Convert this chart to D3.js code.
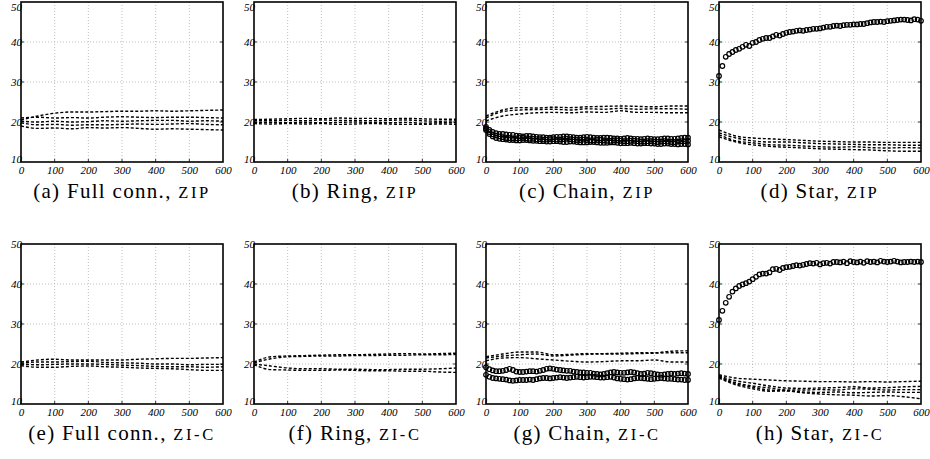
<!DOCTYPE html>
<html>
<head>
<meta charset="utf-8">
<script src="https://cdn.jsdelivr.net/npm/d3@7"></script>
<style>
  body { margin: 0; background: #fff; }
  svg { display: block; }
</style>
</head>
<body>
<svg id="chart" width="930" height="459"></svg>
<script>
// sample positions (iterations)
const xDash = [0, 50, 100, 150, 200, 250, 300, 350, 400, 450, 500, 550, 600]
const xCirc = [0, 10, 20, 30, 40, 50, 60, 70, 80, 90, 100, 110, 120, 130, 140, 150, 160, 170, 180, 190,
  200, 210, 220, 230, 240, 250, 260, 270, 280, 290, 300, 310, 320, 330, 340, 350, 360, 370, 380, 390,
  400, 410, 420, 430, 440, 450, 460, 470, 480, 490, 500, 510, 520, 530, 540, 550, 560, 570, 580, 590, 600]

const xTicks = [0, 100, 200, 300, 400, 500, 600]
const yTicks = [10, 20, 30, 40, 50]

// (a) Full conn., zip
const a1 = [20.5, 21.5, 22.2, 22.5, 22.5, 22.6, 22.7, 22.7, 22.8, 22.7, 22.8, 22.9, 23.0]
const a2 = [21.0, 21.2, 21.0, 21.1, 21.0, 21.2, 21.3, 21.2, 21.1, 21.2, 21.2, 21.1, 21.0]
const a3 = [20.2, 20.0, 20.2, 20.0, 20.1, 20.3, 20.2, 20.3, 20.4, 20.4, 20.2, 20.3, 20.2]
const a4 = [19.8, 19.3, 19.4, 19.2, 19.3, 19.3, 19.4, 19.5, 19.4, 19.5, 19.6, 19.4, 19.3]
const a5 = [19.0, 18.4, 18.5, 18.3, 18.6, 18.5, 18.6, 18.4, 18.2, 18.3, 18.2, 18.1, 18.0]

// (b) Ring, zip
const b1 = [20.6, 20.7, 20.8, 20.9, 20.8, 21.0, 20.9, 20.9, 20.8, 20.9, 20.8, 20.7, 20.7]
const b2 = [20.3, 20.3, 20.4, 20.3, 20.5, 20.4, 20.4, 20.3, 20.4, 20.5, 20.3, 20.2, 20.3]
const b3 = [19.9, 19.9, 19.8, 19.9, 19.8, 19.9, 20.0, 19.8, 19.8, 19.9, 19.7, 19.8, 19.8]
const b4 = [19.6, 19.5, 19.6, 19.5, 19.6, 19.4, 19.5, 19.6, 19.5, 19.4, 19.4, 19.5, 19.4]

// (c) Chain, zip
const c1 = [21.5, 23.0, 23.6, 23.5, 23.7, 23.6, 23.8, 23.9, 24.0, 23.9, 23.8, 24.0, 24.0]
const c2 = [21.0, 22.6, 23.0, 23.1, 23.2, 23.0, 23.3, 23.2, 23.4, 23.2, 23.3, 23.3, 23.2]
const c3 = [20.3, 21.5, 22.0, 22.3, 22.4, 22.3, 22.5, 22.4, 22.8, 22.4, 22.4, 22.3, 22.3]
const cO1 = [18.8, 18.0, 17.5, 17.2, 17.0, 17.0, 16.9, 16.8, 16.8, 16.6, 16.5, 16.4, 16.5, 16.5, 16.4, 16.3, 16.2, 16.2, 16.1, 16.1,
  16.2, 16.3, 16.3, 16.4, 16.4, 16.3, 16.2, 16.1, 16.1, 16.2, 16.3, 16.2, 16.1, 16.0, 16.0, 16.1, 16.1, 16.0, 15.9, 15.9,
  15.8, 15.9, 16.0, 15.9, 15.8, 15.8, 15.7, 15.8, 15.9, 15.8, 15.7, 15.7, 15.8, 15.9, 15.9, 15.8, 15.8, 15.9, 16.0, 16.1, 16.1]
const cO2 = [18.4, 17.5, 16.9, 16.6, 16.4, 16.2, 16.0, 16.0, 15.9, 15.9, 16.0, 16.0, 15.9, 15.8, 15.8, 15.7, 15.7, 15.6, 15.6, 15.7,
  15.7, 15.6, 15.6, 15.7, 15.8, 15.7, 15.6, 15.5, 15.5, 15.6, 15.5, 15.4, 15.4, 15.5, 15.5, 15.4, 15.3, 15.3, 15.4, 15.4,
  15.3, 15.2, 15.2, 15.3, 15.3, 15.2, 15.1, 15.1, 15.2, 15.2, 15.1, 15.0, 15.1, 15.2, 15.1, 15.0, 15.0, 15.1, 15.2, 15.2, 15.3]
const cO3 = [18.0, 17.0, 16.4, 16.0, 15.8, 15.7, 15.6, 15.5, 15.5, 15.4, 15.4, 15.5, 15.5, 15.4, 15.3, 15.3, 15.2, 15.2, 15.1, 15.1,
  15.2, 15.2, 15.1, 15.0, 15.0, 15.1, 15.1, 15.0, 14.9, 14.9, 14.9, 15.0, 15.0, 14.9, 14.8, 14.8, 14.8, 14.9, 14.9, 14.8,
  14.7, 14.7, 14.7, 14.8, 14.7, 14.6, 14.6, 14.7, 14.7, 14.6, 14.6, 14.5, 14.5, 14.6, 14.6, 14.5, 14.5, 14.4, 14.5, 14.5, 14.4]

// (d) Star, zip
const s1 = [18.0, 16.5, 16.0, 15.8, 15.6, 15.4, 15.2, 15.1, 15.0, 15.0, 14.9, 14.9, 14.9]
const s2 = [17.3, 16.0, 15.3, 15.0, 15.0, 14.8, 14.6, 14.5, 14.4, 14.3, 14.3, 14.2, 14.2]
const s3 = [16.8, 15.3, 14.8, 14.3, 14.2, 14.0, 13.8, 13.7, 13.8, 13.6, 13.5, 13.6, 13.5]
const s4 = [16.3, 15.0, 14.3, 13.9, 13.7, 13.5, 13.3, 13.2, 13.1, 13.0, 12.8, 12.7, 12.7]
const sO = [31.5, 34.0, 36.3, 37.0, 37.5, 38.0, 38.3, 38.8, 39.3, 39.0, 39.8, 40.0, 40.5, 40.8, 41.0, 41.0, 41.4, 41.8, 41.6, 42.0,
  42.3, 42.5, 42.6, 42.8, 42.9, 42.8, 43.0, 43.1, 43.3, 43.3, 43.4, 43.6, 43.8, 43.8, 44.0, 44.1, 44.0, 44.2, 44.3, 44.3,
  44.4, 44.4, 44.5, 44.5, 44.7, 44.9, 45.0, 45.0, 45.1, 45.0, 45.2, 45.3, 45.4, 45.5, 45.6, 45.6, 45.5, 45.4, 45.7, 45.6, 45.3]

// (e) Full conn., zi-c
const e1 = [20.5, 21.0, 21.2, 21.0, 21.0, 21.0, 21.0, 21.2, 21.3, 21.4, 21.4, 21.5, 21.6]
const e2 = [20.2, 20.5, 20.5, 20.6, 20.7, 20.4, 20.3, 20.2, 20.0, 20.0, 19.8, 19.9, 19.9]
const e3 = [20.0, 19.8, 19.9, 20.0, 20.0, 19.9, 19.7, 19.6, 19.4, 19.3, 19.3, 19.2, 19.3]
const e4 = [19.6, 19.2, 19.2, 19.4, 19.5, 19.3, 19.2, 19.0, 18.9, 18.8, 18.6, 18.4, 18.4]

// (f) Ring, zi-c
const f1 = [20.5, 21.8, 22.0, 22.1, 22.2, 22.3, 22.3, 22.4, 22.5, 22.6, 22.5, 22.6, 22.7]
const f2 = [20.3, 21.3, 21.8, 21.9, 22.0, 22.0, 22.1, 22.1, 22.2, 22.2, 22.3, 22.3, 22.4]
const f3 = [20.0, 19.5, 19.0, 18.8, 18.8, 18.7, 18.7, 18.6, 18.6, 18.7, 18.7, 18.8, 19.0]
const f4 = [19.8, 18.6, 18.5, 18.4, 18.4, 18.5, 18.4, 18.3, 18.3, 18.2, 18.2, 18.0, 17.9]

// (g) Chain, zi-c
const g1 = [21.8, 22.5, 23.0, 23.0, 22.3, 22.4, 22.6, 22.6, 22.7, 22.8, 22.8, 23.2, 23.3]
const g2 = [21.5, 22.0, 22.3, 22.5, 22.0, 22.2, 22.4, 22.5, 22.5, 22.6, 22.7, 22.8, 22.8]
const g3 = [20.8, 21.5, 21.6, 21.3, 21.0, 20.7, 20.5, 20.6, 20.8, 20.8, 21.0, 20.5, 20.5]
const gO1 = [19.2, 18.7, 18.4, 18.2, 18.2, 18.3, 18.5, 18.8, 18.5, 18.1, 18.0, 18.0, 18.1, 18.2, 18.2, 18.1, 18.3, 18.5, 18.8, 18.9,
  18.8, 18.6, 18.5, 18.4, 18.3, 18.3, 18.1, 18.0, 17.9, 17.9, 17.8, 17.8, 17.6, 17.5, 17.4, 17.5, 17.7, 17.9, 18.0, 17.9,
  17.8, 17.8, 17.9, 18.0, 17.9, 17.7, 17.5, 17.6, 17.8, 17.7, 17.5, 17.4, 17.3, 17.4, 17.5, 17.6, 17.5, 17.6, 17.7, 17.6, 17.5]
const gO2 = [17.3, 16.8, 16.5, 16.4, 16.3, 16.2, 16.1, 15.9, 15.8, 15.9, 16.0, 16.0, 16.0, 16.1, 16.0, 16.2, 16.4, 16.5, 16.5, 16.4,
  16.5, 16.6, 16.7, 16.6, 16.5, 16.6, 16.7, 16.8, 16.7, 16.6, 16.7, 16.8, 16.8, 16.7, 16.6, 16.6, 16.7, 16.8, 16.6, 16.4,
  16.3, 16.2, 16.1, 16.2, 16.4, 16.5, 16.5, 16.4, 16.3, 16.2, 16.3, 16.4, 16.5, 16.4, 16.3, 16.3, 16.2, 16.1, 16.1, 16.0, 16.0]

// (h) Star, zi-c
const h1 = [17.3, 16.5, 16.2, 16.0, 15.8, 15.7, 15.6, 15.6, 15.5, 15.6, 15.5, 15.6, 15.7]
const h2 = [17.0, 15.8, 15.2, 14.5, 14.0, 13.9, 14.0, 14.1, 14.3, 14.0, 14.1, 14.3, 14.4]
const h3 = [16.8, 15.3, 14.5, 14.0, 13.5, 13.5, 13.6, 13.5, 13.8, 13.7, 13.5, 13.6, 13.6]
const h4 = [16.5, 14.8, 13.8, 13.2, 13.3, 13.0, 12.9, 13.0, 12.8, 12.9, 13.0, 12.9, 12.9]
const h5 = [16.8, 15.0, 14.2, 13.5, 13.3, 12.8, 12.5, 12.3, 12.2, 12.0, 12.1, 11.8, 11.3]
const hO = [31.0, 33.3, 35.3, 36.8, 38.1, 38.9, 39.5, 39.9, 40.2, 40.6, 41.2, 41.8, 42.4, 42.6, 42.6, 42.9, 43.7, 43.8, 43.5, 44.0,
  44.2, 44.3, 44.5, 44.7, 44.6, 44.8, 45.0, 45.2, 45.1, 45.3, 44.9, 45.2, 45.3, 45.1, 45.5, 45.5, 45.4, 45.6, 45.2, 45.7,
  45.5, 45.4, 45.6, 45.3, 45.7, 45.5, 45.6, 45.4, 45.8, 45.6, 45.5, 45.6, 45.8, 45.6, 45.4, 45.5, 45.5, 45.6, 45.5, 45.6, 45.5]

const captions = [
  ["(a) Full conn., ", "zip"], ["(b) Ring, ", "zip"], ["(c) Chain, ", "zip"], ["(d) Star, ", "zip"],
  ["(e) Full conn., ", "zi-c"], ["(f) Ring, ", "zi-c"], ["(g) Chain, ", "zi-c"], ["(h) Star, ", "zi-c"]
]

const panels = [
  { dash: [a1, a2, a3, a4, a5], circ: [] },
  { dash: [b1, b2, b3, b4], circ: [] },
  { dash: [c1, c2, c3], circ: [cO1, cO2, cO3] },
  { dash: [s1, s2, s3, s4], circ: [sO] },
  { dash: [e1, e2, e3, e4], circ: [] },
  { dash: [f1, f2, f3, f4], circ: [] },
  { dash: [g1, g2, g3], circ: [gO1, gO2] },
  { dash: [h1, h2, h3, h4, h5], circ: [hO] }
]

const svg = d3.select("#chart")
const lefts = [21, 254, 486, 719]
const plotW = 202
const rows = [{ top: 2, bottom: 162 }, { top: 244, bottom: 404 }]
const serif = "'Liberation Serif', 'Times New Roman', serif"

panels.forEach((p, i) => {
  const col = i % 4
  const rowIdx = Math.floor(i / 4)
  const row = rows[rowIdx]
  const x = d3.scaleLinear().domain([0, 600]).range([lefts[col], lefts[col] + plotW])
  const y = d3.scaleLinear().domain([10, 50]).range([row.bottom, row.top])
  const g = svg.append("g")

  // grid
  g.append("g")
    .attr("stroke", "#b0b0b0")
    .attr("stroke-width", 0.8)
    .attr("stroke-dasharray", "1,2")
    .call(g => g.selectAll(".vx").data(xTicks.slice(1, -1)).join("line")
      .attr("x1", d => x(d)).attr("x2", d => x(d))
      .attr("y1", row.top).attr("y2", row.bottom))
    .call(g => g.selectAll(".hy").data(yTicks.slice(1, -1)).join("line")
      .attr("y1", d => y(d)).attr("y2", d => y(d))
      .attr("x1", x(0)).attr("x2", x(600)))

  // inner ticks
  g.append("g")
    .attr("stroke", "#000")
    .attr("stroke-width", 0.8)
    .call(g => g.selectAll(".t").data(yTicks.slice(1, -1)).join("line")
      .attr("x1", x(0)).attr("x2", x(0) + 3)
      .attr("y1", d => y(d)).attr("y2", d => y(d)))
    .call(g => g.selectAll(".t2").data(yTicks.slice(1, -1)).join("line")
      .attr("x1", x(600) - 3).attr("x2", x(600))
      .attr("y1", d => y(d)).attr("y2", d => y(d)))
    .call(g => g.selectAll(".t3").data(xTicks.slice(1, -1)).join("line")
      .attr("x1", d => x(d)).attr("x2", d => x(d))
      .attr("y1", row.bottom).attr("y2", row.bottom - 3))

  // dashed series
  const line = d3.line().x((d, j) => x(xDash[j])).y(d => y(d)).curve(d3.curveMonotoneX)
  g.append("g")
    .attr("fill", "none")
    .attr("stroke", "#000")
    .attr("stroke-width", 1.4)
    .attr("stroke-dasharray", "3,2")
    .selectAll("path")
    .data(p.dash)
    .join("path")
    .attr("d", line)

  // circle series
  p.circ.forEach(s => {
    g.append("g")
      .attr("fill", "none")
      .attr("stroke", "#000")
      .attr("stroke-width", 1.2)
      .selectAll("circle")
      .data(s)
      .join("circle")
      .attr("cx", (d, j) => x(xCirc[j]))
      .attr("cy", d => y(d))
      .attr("r", 2.3)
  })

  // frame
  g.append("rect")
    .attr("x", x(0)).attr("y", row.top)
    .attr("width", plotW).attr("height", row.bottom - row.top)
    .attr("fill", "none").attr("stroke", "#000").attr("stroke-width", 1.6)

  // axes labels
  const styleTicks = g => g
    .attr("font-family", serif)
    .attr("font-size", 11)
    .call(g => g.select(".domain").remove())
    .call(g => g.selectAll("text")
      .attr("font-style", "italic")
      .attr("fill", "#000"))

  g.append("g")
    .attr("transform", `translate(0,${row.bottom + 4})`)
    .call(d3.axisBottom(x).tickValues(xTicks).tickSize(0).tickPadding(0).tickFormat(d3.format("d")))
    .call(styleTicks)
    .call(g => g.selectAll("text").attr("dy", "0.75em"))

  g.append("g")
    .attr("transform", `translate(${x(0) + 1},0)`)
    .call(d3.axisLeft(y).tickValues(yTicks).tickSize(0).tickPadding(0).tickFormat(d3.format("d")))
    .call(styleTicks)
    .call(g => g.selectAll("text")
      .attr("dy", d => d === 10 ? "0em" : (rowIdx === 0 && d === 50) ? "0.75em" : "0.32em"))

  // caption
  const t = svg.append("text")
    .attr("x", (x(0) + x(600)) / 2)
    .attr("y", row.bottom + 36)
    .attr("text-anchor", "middle")
    .attr("font-family", serif)
    .attr("font-size", 21)
    .attr("letter-spacing", 1.3)
    .attr("fill", "#000")
  t.append("tspan").text(captions[i][0])
  t.append("tspan")
    .attr("font-size", 16.5)
    .attr("letter-spacing", 2.6)
    .text(captions[i][1].toUpperCase())
})
</script>
</body>
</html>
